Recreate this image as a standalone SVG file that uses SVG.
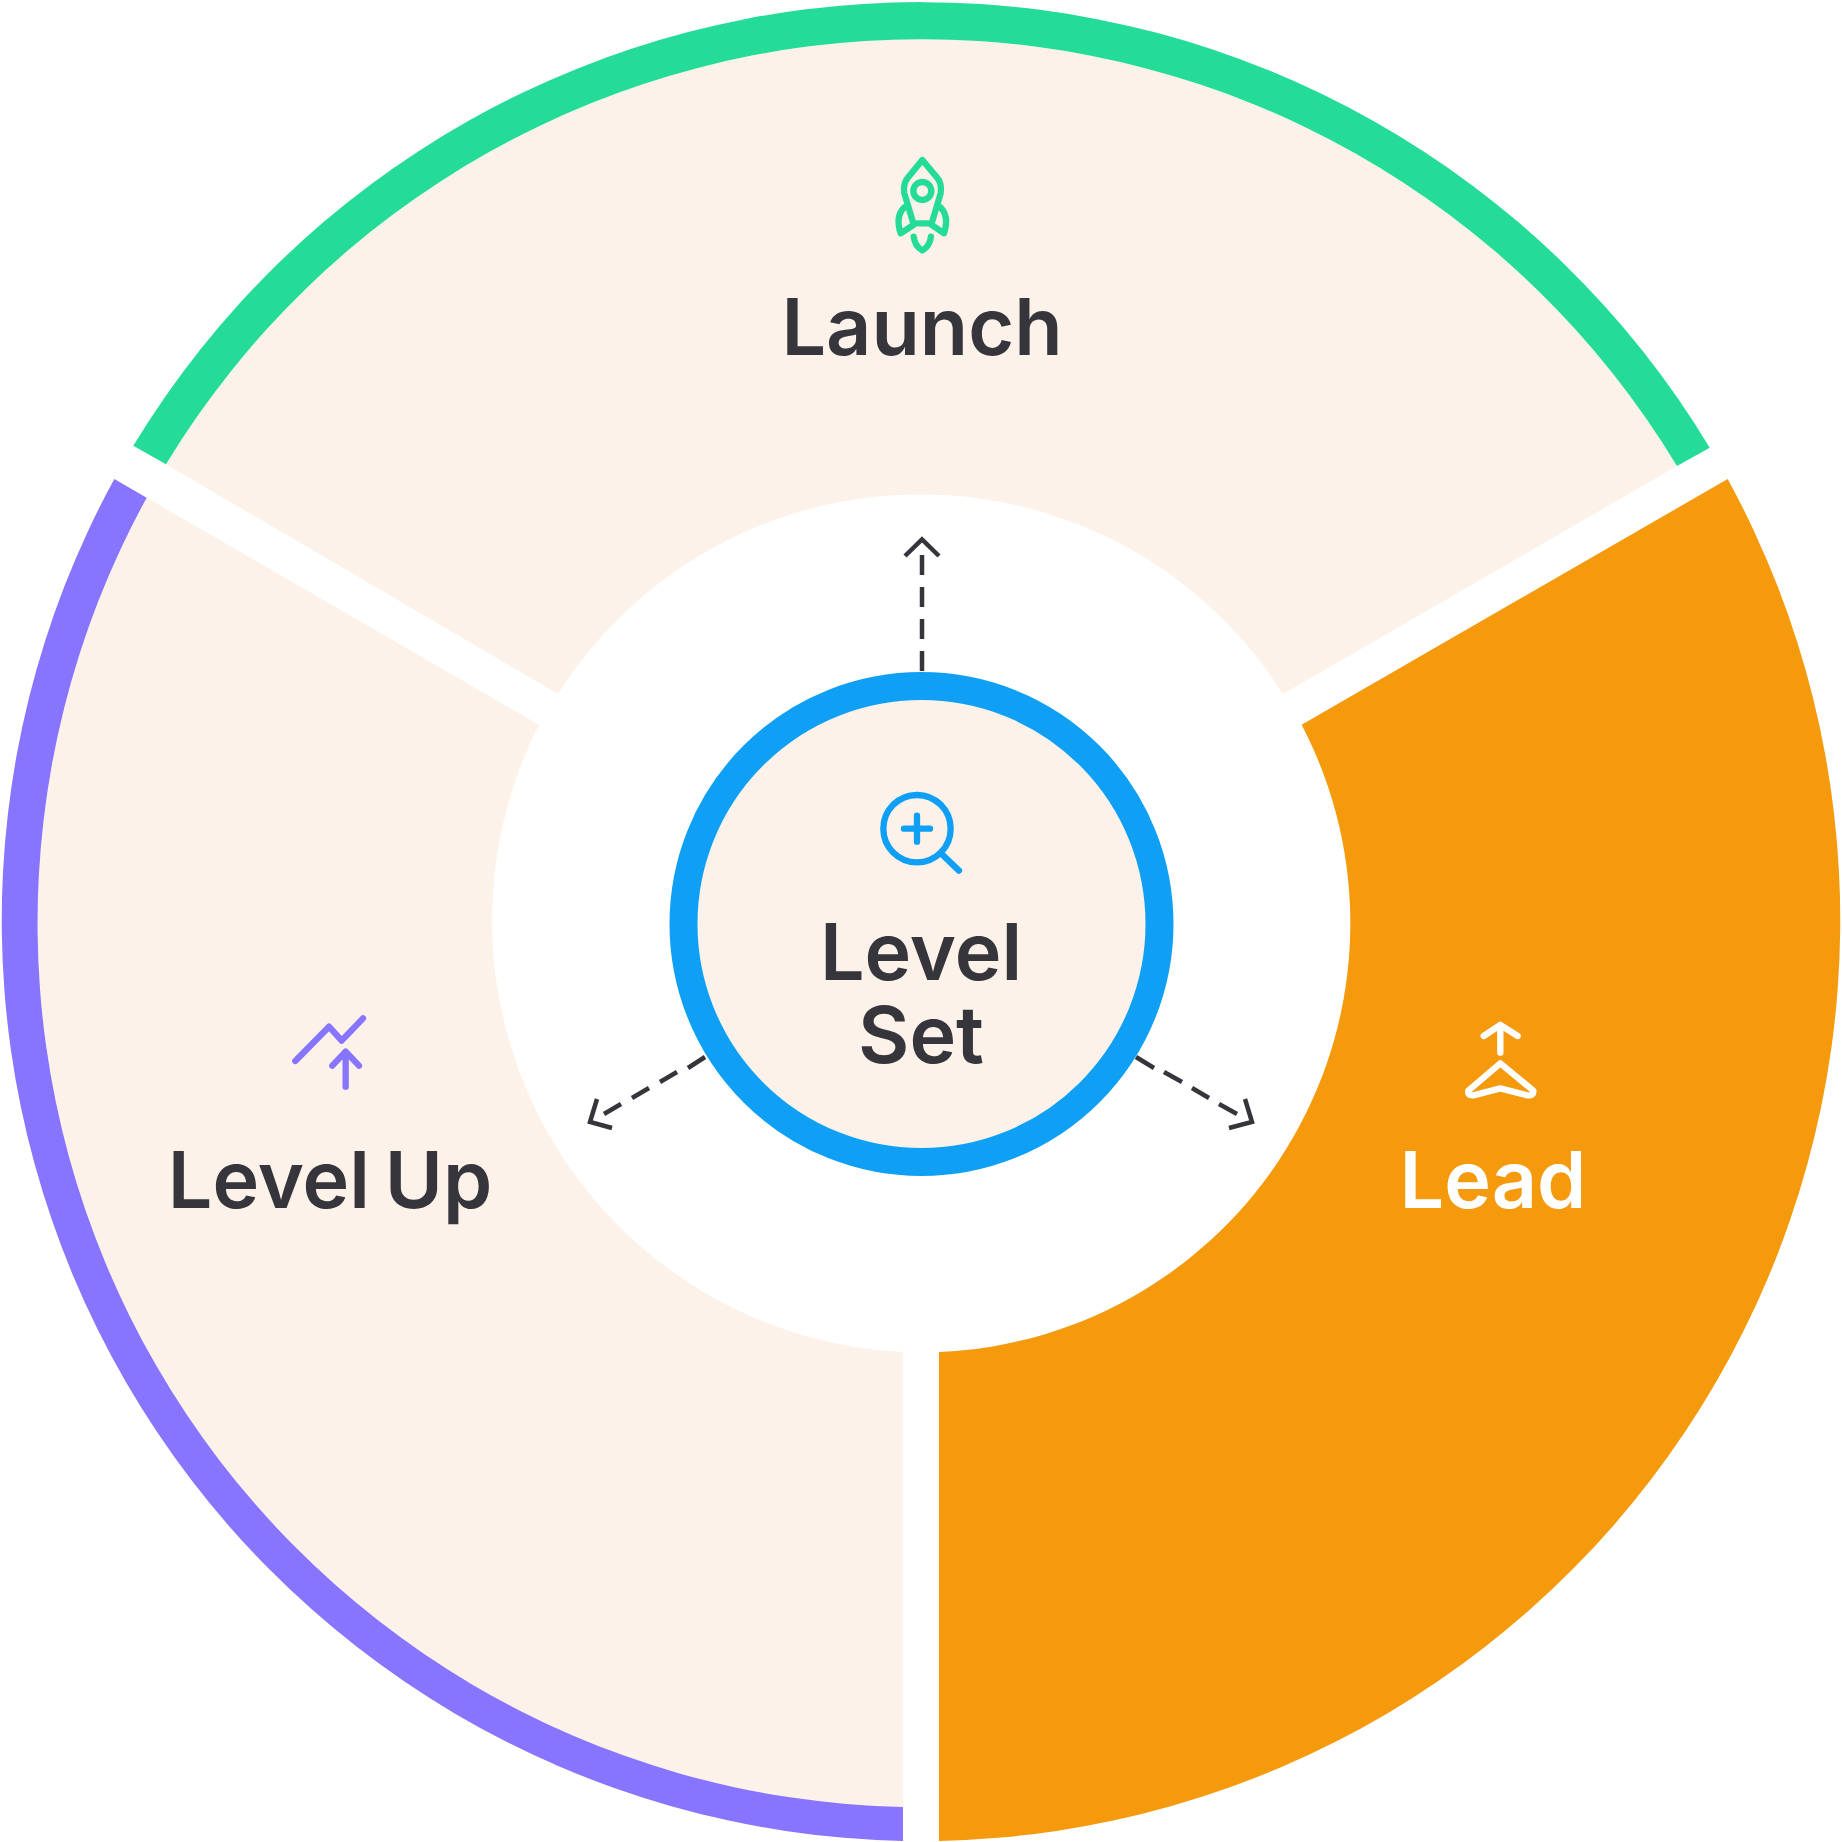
<svg xmlns="http://www.w3.org/2000/svg" width="1842" height="1842" viewBox="0 0 1842 1842">
<style>
.label{font-family:"Inter","Liberation Sans",sans-serif;font-size:79px;font-weight:600;fill:#35353b;text-anchor:middle;word-spacing:-5px}
.icon{fill:none;stroke-width:19;stroke-linecap:round;stroke-linejoin:round}
.dash{fill:none;stroke:#35353b;stroke-width:4.5}
.pink{fill:#fdf2e9}
</style>
<rect width="1842" height="1842" fill="#fff"/>
<g id="launch">
<path class="pink" d="M166 464.3A883 883 0 0 1 1677 466L1283 694A429 429 0 0 0 558 694Z"/>
<path fill="#24dc98" d="M133.3 445.7A921 921 0 0 1 1709.7 447.7L1677 466A883 883 0 0 0 166 464.3Z"/>
<g class="icon" stroke="#24dc98" transform="translate(860 130) scale(.3333)">
<path d="M187 90L146 140Q128 160 133 190L160 280H215L242 190Q247 160 229 140Z"/>
<circle cx="187" cy="183" r="27"/>
<path d="M133 232Q105 260 122 310L160 285M241 232Q269 260 252 310L215 285"/>
<path d="M161 320Q165 350 187 361Q209 350 213 320"/>
</g>
<text class="label" x="922" y="355">Launch</text>
</g>
<g id="level-up">
<path class="pink" d="M146.7 497.7A884 884 0 0 0 903 1807V1352A432 432 0 0 1 539 724.8Z"/>
<path fill="#8774ff" d="M114.3 479A921 921 0 0 0 903 1841V1807A884 884 0 0 1 146.7 497.7Z"/>
<g class="icon" stroke="#8774ff" transform="translate(270 1000) scale(.3333)">
<path d="M76 183L177 80L215 122L279 55"/>
<path d="M187 197L227 155L267 197M227 155V260"/>
</g>
<text class="label" x="330" y="1208">Level Up</text>
</g>
<g id="lead">
<path fill="#f59a0d" d="M1727.7 479A921 921 0 0 1 939 1841V1352A429 429 0 0 0 1301.6 724.8Z"/>
<path fill="none" stroke="#f7a624" stroke-width=".7" stroke-dasharray="2 3" stroke-opacity=".6" d="M1695.7 497A884 884 0 0 1 939 1807"/>
<g class="icon" stroke="#fff" transform="translate(1440 1000) scale(.3333)">
<path d="M131 108L181 75L233 108M181 75V158"/>
<path d="M181 190L85 272Q82 288 100 286L181 265L262 286Q282 288 280 272Z"/>
</g>
<text class="label" x="1493" y="1208" style="fill:#fff">Lead</text>
</g>
<g id="level-set">
<circle cx="921.5" cy="924" r="238" class="pink" stroke="#0fa0f5" stroke-width="28"/>
<g class="icon" stroke="#0fa0f5" transform="translate(850 770) scale(.3333)">
<circle cx="201" cy="176" r="101"/>
<path d="M275 252L327 302M162 176H240M201 137V215"/>
</g>
<text class="label" y="980"><tspan x="921">Level</tspan><tspan x="921" dy="83">Set</tspan></text>
</g>
<g id="connectors">
<path class="dash" d="M922 671V651M922 639V619M922 607V587M922 575V555M905 556L922 539.5L939 556"/>
<path class="dash" d="M705 1057L688 1068M677 1072L660 1082M649 1088L632 1098M621 1104L604 1114M597 1099L590 1122L612 1128"/>
<path class="dash" d="M1136 1057L1154 1068M1164 1072L1182 1082M1192 1088L1209 1098M1219 1104L1237 1114M1245 1099L1252 1122L1229 1128"/>
</g>
</svg>
